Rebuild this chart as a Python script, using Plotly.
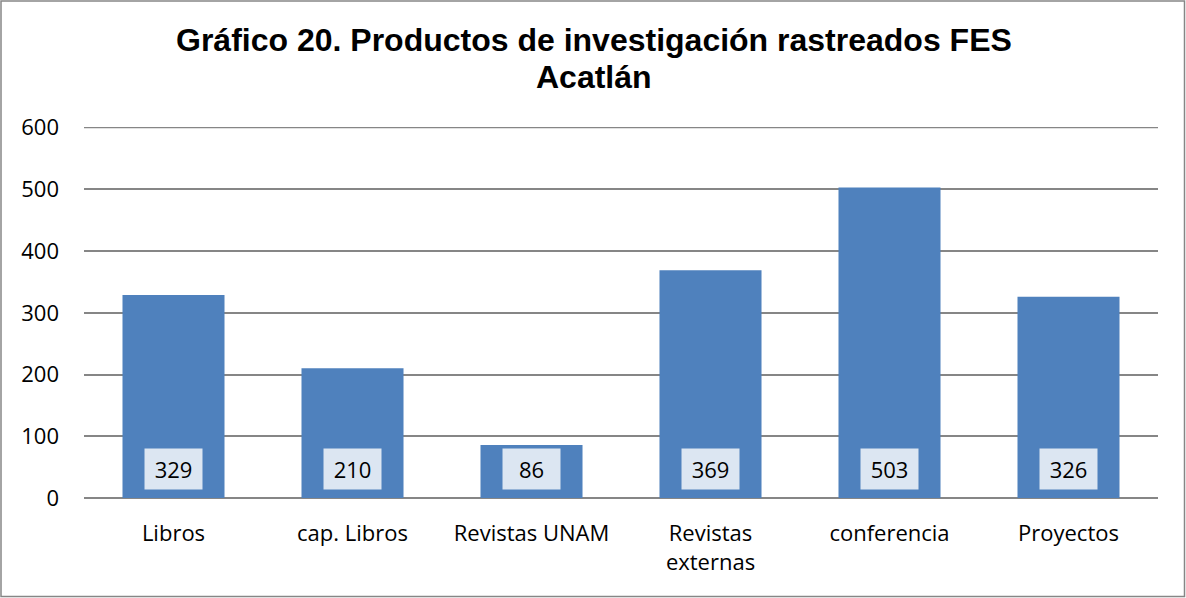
import plotly.graph_objects as go

categories = ["Libros", "cap. Libros", "Revistas UNAM", "Revistas<br>externas", "conferencia", "Proyectos"]
values = [329, 210, 86, 369, 503, 326]
y_ticks = [0, 100, 200, 300, 400, 500, 600]
title_lines = ["Gráfico 20. Productos de investigación rastreados FES", "Acatlán"]

W, H = 1186, 598
ml, mr, mt, mb = 84, 28, 127, 100
pw, ph = W - ml - mr, H - mt - mb
body_font = "Open Sans, Noto Sans, sans-serif"
grid_color = "#868686"

fig = go.Figure()
fig.add_trace(go.Bar(
    x=categories, y=values,
    marker=dict(color="#4F81BD", line=dict(width=0)),
    width=0.57,
    hoverinfo="x+y",
))

for c, v in zip(categories, values):
    fig.add_annotation(
        x=c, y=0, xref="x", yref="y",
        text=str(v), showarrow=False,
        yanchor="bottom", yshift=8,
        width=43, height=26, borderpad=7,
        bgcolor="#DCE6F2",
        font=dict(family=body_font, size=22, color="#000000"),
    )

# chart title, one annotation per line
title_centers_px = [40, 77]
for line, cy in zip(title_lines, title_centers_px):
    fig.add_annotation(
        x=(W / 2 + 1 - ml) / pw, y=1 + (mt - cy) / ph,
        xref="paper", yref="paper", xanchor="center", yanchor="middle",
        text="<b>" + line + "</b>", showarrow=False,
        font=dict(family="Liberation Sans, Arial, sans-serif", size=32, color="#000000"),
    )

# top gridline at the axis maximum (plotly omits the grid line at the range edge)
fig.add_shape(
    type="line", xref="paper", yref="y",
    x0=0, x1=1, y0=y_ticks[-1], y1=y_ticks[-1],
    line=dict(color=grid_color, width=1.5), layer="below",
)

# outer chart border
fig.add_shape(
    type="rect", xref="paper", yref="paper",
    x0=(1 - ml) / pw, x1=(W - 1.5 - ml) / pw,
    y0=-(mb - 1.5) / ph, y1=1 + (mt - 1) / ph,
    line=dict(color=grid_color, width=1.5), fillcolor="rgba(0,0,0,0)",
    layer="above",
)

fig.update_layout(
    width=W, height=H,
    margin=dict(l=ml, r=mr, t=mt, b=mb, pad=0),
    paper_bgcolor="white", plot_bgcolor="white",
    showlegend=False,
    bargap=0.43,
    xaxis=dict(
        showgrid=False, showline=False, zeroline=False,
        ticks="", ticklabelstandoff=20,
        tickfont=dict(family=body_font, size=22, color="#000000"),
        fixedrange=True,
    ),
    yaxis=dict(
        range=[0, 601], tickvals=y_ticks,
        showgrid=True, gridcolor=grid_color, gridwidth=1.5,
        zeroline=True, zerolinecolor=grid_color, zerolinewidth=1.5,
        showline=False, ticks="", ticklabelstandoff=24,
        tickfont=dict(family=body_font, size=22, color="#000000"),
        fixedrange=True,
    ),
)

fig.write_html(
    "out.html",
    config={"displayModeBar": False},
    post_script="document.body.style.margin='0';",
)
